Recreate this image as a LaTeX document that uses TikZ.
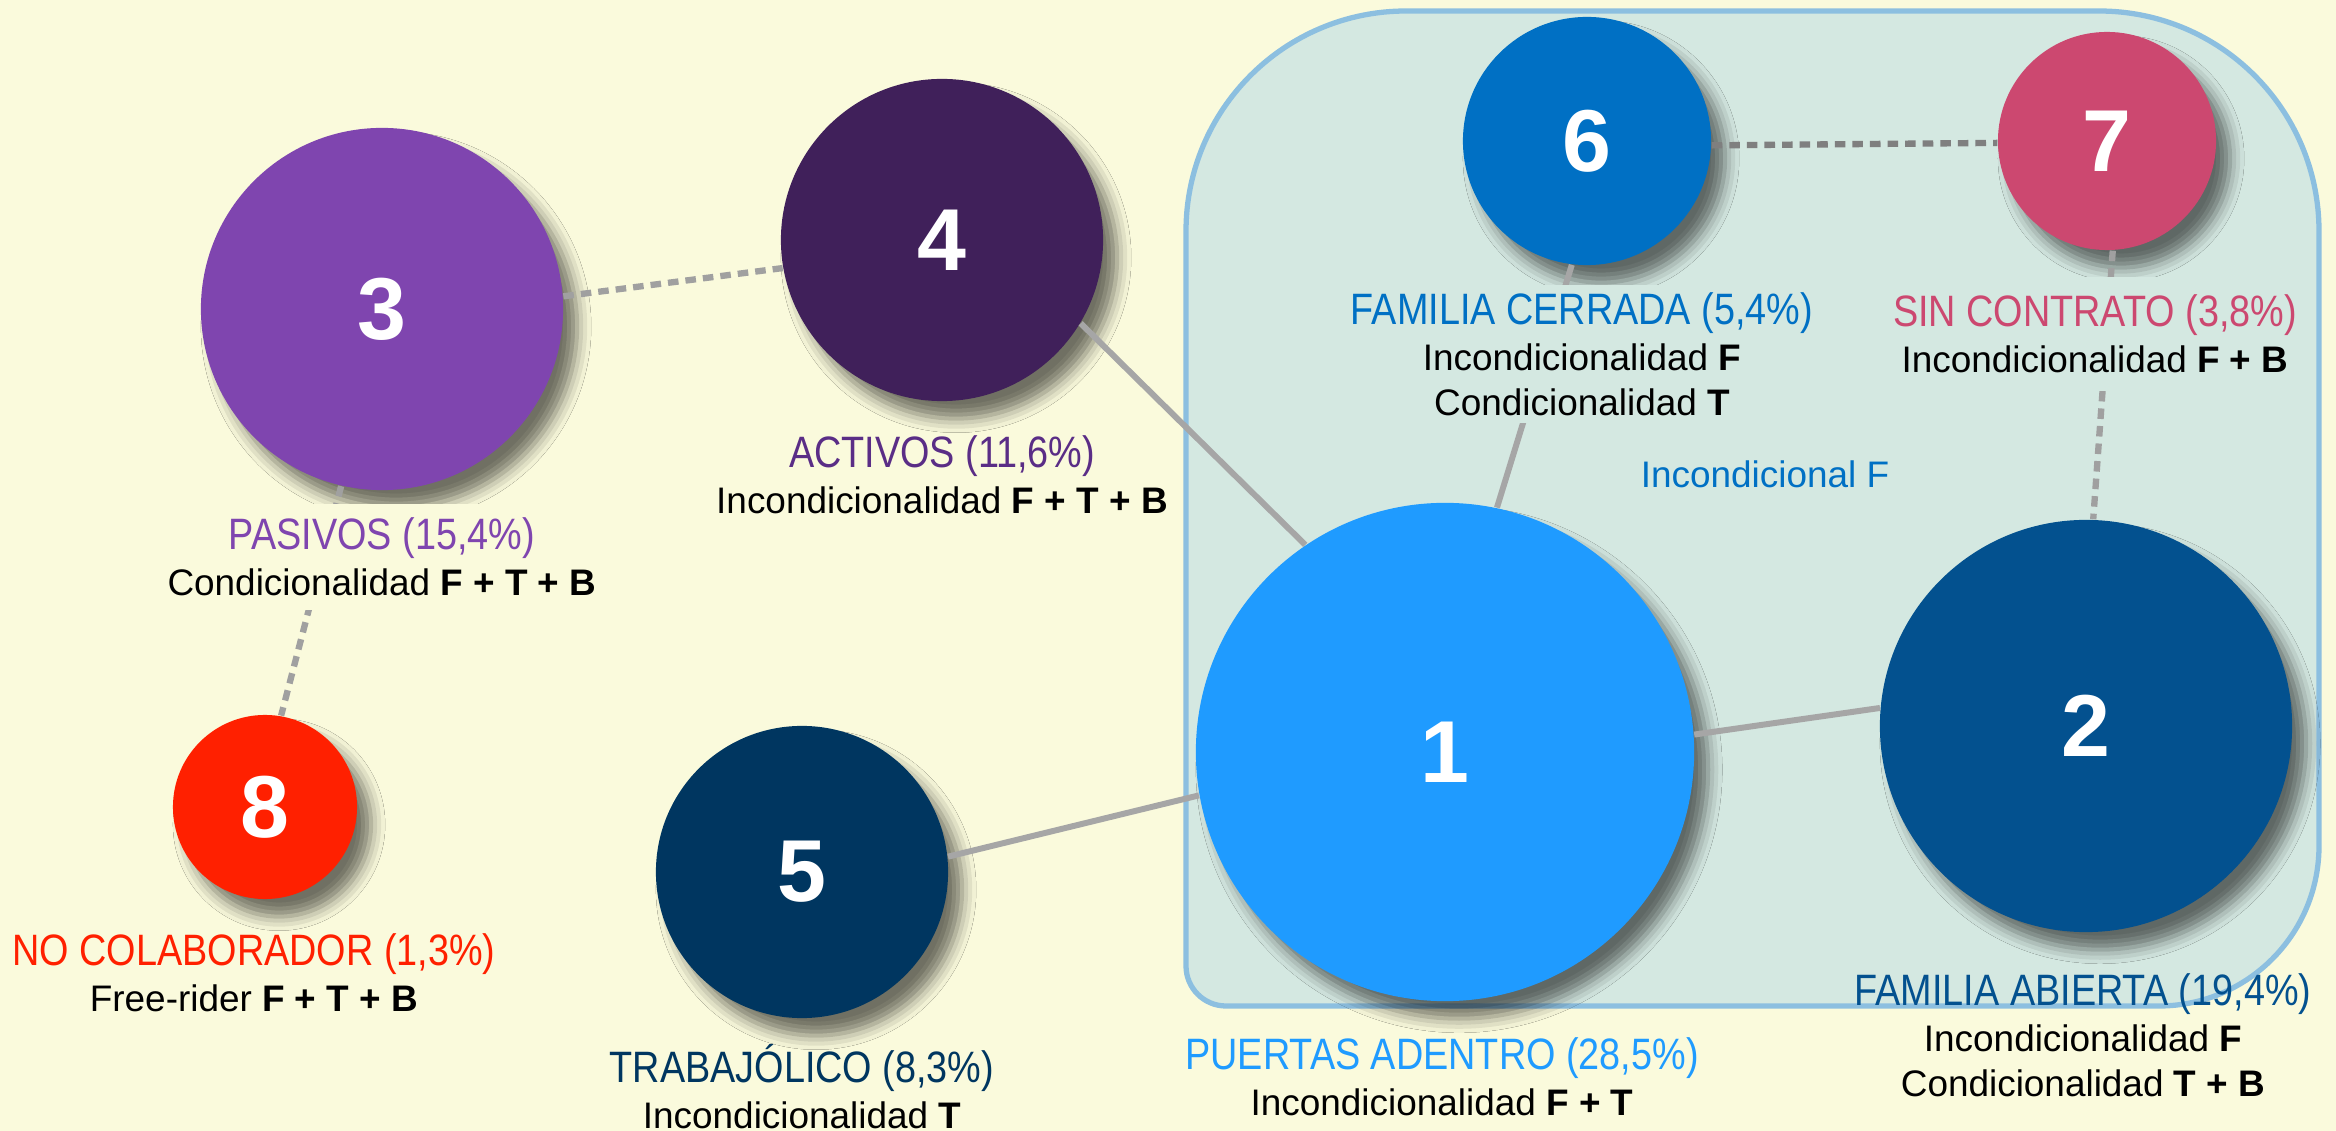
\documentclass[tikz,border=0pt]{standalone}
\usepackage{fontspec}
\setmainfont{Liberation Sans}
\newfontfamily\titfont{Liberation Sans}[FakeStretch=0.86]
\usepackage{tikz}
\usetikzlibrary{
  positioning,
  shadows.blur,
  }
\definecolor{fondo}{HTML}{FAFADC}
\definecolor{caja}{HTML}{D4E8E1}
\definecolor{borde}{HTML}{8CBFE0}
\definecolor{linea}{HTML}{A6A6A6}
\definecolor{puntos}{HTML}{A0A0A0}
\definecolor{puntososc}{HTML}{7F7F7F}
\definecolor{azulclaro}{HTML}{1F9BFF}
\definecolor{azulabierta}{HTML}{03518F}
\definecolor{lilapasivo}{HTML}{7F45AF}
\definecolor{moradoactivo}{HTML}{40205A}
\definecolor{textoactivo}{HTML}{5A2D86}
\definecolor{marinotrab}{HTML}{003660}
\definecolor{azulcerrada}{HTML}{0070C4}
\definecolor{rosacontrato}{HTML}{CC4870}
\definecolor{rojonocol}{HTML}{FF2000}
\newcommand{\titulo}[2]{{\color{#1}\titfont\fontsize{12.5}{13}\selectfont #2}}

\begin{document}
\begin{tikzpicture}[x=0.01cm, y=-0.01cm,
    bola/.style={circle, text=white, font=\bfseries\fontsize{25}{30}\selectfont,
      blur shadow={shadow xshift=4pt, shadow yshift=-5pt, shadow blur radius=4pt, shadow opacity=55}},
    conector/.style={draw=linea, line width=1.7pt},
    punteado/.style={draw=puntos, line width=1.8pt, dash pattern=on 3pt off 2pt},
    etiqueta/.style={align=center, inner sep=2pt, font=\fontsize{10.5}{13}\selectfont}]
  \fill[fondo] (0,0) rectangle (2336,1131);
  \useasboundingbox (0,0) rectangle (2336,1131);
  % caja del grupo F
  \draw[draw=borde, fill=caja, line width=1.5pt] (1186,500) [rounded corners=2.2cm] -- (1186,11)
    -- (1750,11) -- (2319,11) -- (2319,600) [rounded corners=1.6cm] -- (2319,1006)
    -- (1600,1006) [rounded corners=0.4cm] -- (1186,1006) -- cycle;

  \node[bola, fill=lilapasivo, minimum size=3.62cm] (c3) at (382,309) {3};
  \node[bola, fill=moradoactivo, minimum size=3.22cm] (c4) at (942,240) {4};
  \node[bola, fill=azulcerrada, minimum size=2.48cm] (c6) at (1587,141) {6};
  \node[bola, fill=rosacontrato, minimum size=2.18cm] (c7) at (2107,141) {7};
  \node[bola, fill=azulclaro, minimum size=4.98cm] (c1) at (1445,752) {1};
  \node[bola, fill=azulabierta, minimum size=4.12cm] (c2) at (2086,726) {2};
  \node[bola, fill=marinotrab, minimum size=2.92cm] (c5) at (802,872) {5};
  \node[bola, fill=rojonocol, minimum size=1.84cm] (c8) at (265,807) {8};

  \draw[conector] (c4.-31) -- (c1.124);
  \draw[conector] (c5.6) -- (c1.190);
  \draw[conector] (c1.4) -- (c2.175);
  \draw[conector] (c6.-97) -- (c1.78);
  \draw[punteado] (c3.4) -- (c4.190);
  \draw[punteado] (c3.257) -- (c8.80);
  \draw[punteado, draw=puntososc] (c6.-2) -- (c7.181);
  \draw[punteado] (c7.-87) -- (c2.88);

  \node[etiqueta, below=0.12cm of c3, fill=fondo, inner ysep=4pt] (t3)
    {\titulo{lilapasivo}{PASIVOS (15,4\%)}\\Condicionalidad \textbf{F + T + B}};
  \node[etiqueta, below=0.26cm of c4] (t4)
    {\titulo{textoactivo}{ACTIVOS (11,6\%)}\\Incondicionalidad \textbf{F + T + B}};
  \node[etiqueta, below=0.19cm of c6, xshift=-0.05cm, fill=caja] (t6)
    {\titulo{azulcerrada}{FAMILIA CERRADA (5,4\%)}\\Incondicionalidad \textbf{F}\\Condicionalidad \textbf{T}};
  \node[etiqueta, below=0.26cm of c7, xshift=-0.12cm, fill=caja, inner ysep=5pt] (t7)
    {\titulo{rosacontrato}{SIN CONTRATO (3,8\%)}\\Incondicionalidad \textbf{F + B}};
  \node[etiqueta, below=0.26cm of c8, xshift=-0.11cm] (t8)
    {\titulo{rojonocol}{NO COLABORADOR (1,3\%)}\\Free-rider \textbf{F + T + B}};
  \node[etiqueta, below=0.18cm of c5] (t5)
    {\titulo{marinotrab}{TRABAJÓLICO (8,3\%)}\\Incondicionalidad \textbf{T}};
  \node[etiqueta, below=0.28cm of c1, xshift=-0.03cm] (t1)
    {\titulo{azulclaro}{PUERTAS ADENTRO (28,5\%)}\\Incondicionalidad \textbf{F + T}};
  \node[etiqueta, below=0.33cm of c2, xshift=-0.03cm] (t2)
    {\titulo{azulabierta}{FAMILIA ABIERTA (19,4\%)}\\Incondicionalidad \textbf{F}\\Condicionalidad \textbf{T + B}};
  \node[text=azulcerrada, font=\fontsize{10.5}{13}\selectfont] (nota) at (1765,474) {Incondicional F};
\end{tikzpicture}
\end{document}
